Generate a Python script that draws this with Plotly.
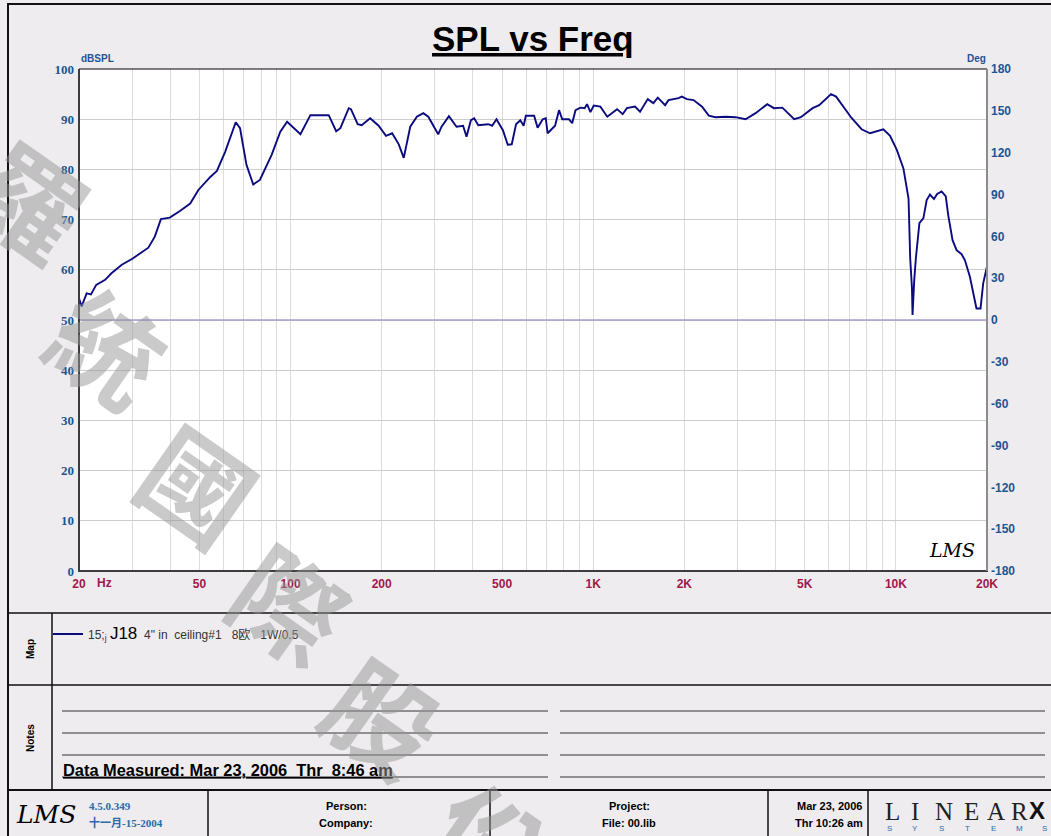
import math
import plotly.graph_objects as go

# ---------------- data ----------------
freq_hz = [
    20, 20.4, 21.2, 21.9, 22.8, 24.4, 25.6, 27.7, 30, 31.8,
    33.9, 35.6, 37.3, 39.9, 43.1, 46.6, 49.6, 54.3, 57.1, 60.8,
    65.9, 68.1, 71.5, 75.3, 79.2, 86.6, 92.5, 97.4, 107.8, 116.3,
    133.7, 141.5, 146.1, 155.7, 158.3, 166.7, 171.8, 183.2, 195.4, 206.7,
    216.6, 227.8, 236.6, 248.6, 261.4, 274.6, 285.1, 307.5, 315.4, 333.6,
    353.5, 371.6, 381.4, 394.3, 404.5, 417, 449.8, 463.5, 479, 503,
    522, 538, 556, 574, 589, 599, 638, 655, 681, 697,
    707, 748, 771, 790, 831, 852, 874, 907, 937, 954,
    979, 1004, 1056, 1113, 1199, 1251, 1292, 1374, 1428, 1514,
    1580, 1634, 1728, 1773, 1914, 1962, 2040, 2146, 2289, 2409,
    2535, 2737, 2954, 3186, 3439, 3757, 3954, 4215, 4613, 4853,
    5306, 5580, 6106, 6345, 6764, 7126, 7703, 8215, 9093, 9567,
    10070, 10590, 11010, 11150, 11300, 11350, 11500, 11640, 11960, 12330,
    12640, 12960, 13360, 13690, 14160, 14620, 14890, 15390, 15870, 16490,
    16910, 17560, 18460, 19040, 19430, 19990,
]
spl_db = [
    54.3, 52.7, 55.3, 55.1, 57.0, 58.0, 59.3, 61.0, 62.2, 63.3,
    64.4, 66.6, 70.1, 70.4, 71.7, 73.2, 75.9, 78.5, 79.7, 83.5,
    89.4, 88.2, 80.9, 77.0, 77.9, 82.9, 87.5, 89.5, 87.0, 90.8,
    90.8, 87.6, 88.2, 92.2, 92.0, 89.0, 88.8, 90.2, 88.7, 86.7,
    87.2, 85.0, 82.3, 88.5, 90.5, 91.2, 90.5, 87.0, 88.5, 90.6,
    88.5, 88.7, 86.5, 89.8, 90.2, 88.8, 89.0, 88.7, 90.0, 87.8,
    84.9, 85.0, 89.0, 89.8, 88.7, 90.7, 90.7, 88.3, 90.0, 90.2,
    87.2, 88.7, 91.8, 90.0, 90.0, 89.2, 91.8, 92.3, 92.2, 93.0,
    91.4, 92.7, 92.5, 90.5, 92.0, 91.0, 92.2, 92.5, 91.5, 94.0,
    93.2, 94.3, 92.8, 93.8, 94.2, 94.5, 94.0, 93.8, 92.5, 90.7,
    90.4, 90.5, 90.4, 90.0, 91.2, 93.0, 92.2, 92.3, 90.0, 90.4,
    92.2, 92.8, 95.0, 94.5, 92.3, 90.3, 88.0, 87.2, 88.0, 86.7,
    83.9, 80.2, 74.2, 62.3, 56.4, 51.0, 58.0, 62.3, 69.3, 70.3,
    73.9, 75.0, 74.1, 75.1, 75.6, 74.6, 70.9, 65.9, 63.9, 63.1,
    61.9, 58.6, 52.3, 52.3, 57.3, 60.6,
]
phase_freq = [20, 20000]
phase_deg = [0, 0]

x_tickvals = [20, 50, 100, 200, 500, 1000, 2000, 5000, 10000, 20000]
x_ticktext = ["20", "50", "100", "200", "500", "1K", "2K", "5K", "10K", "20K"]
x_minor_grid = [30, 40, 60, 70, 80, 90, 300, 400, 600, 700, 800, 900,
                3000, 4000, 6000, 7000, 8000, 9000]
spl_ticks = list(range(0, 101, 10))
deg_ticks = list(range(-180, 181, 30))
deg_ticktext = [str(v) for v in deg_ticks]

legend_name = ("15;<sub>j</sub> <span style='font-size:17px;color:#000'>J18</span>"
               "  4\" in  ceiling#1   8欧   1W/0.5")

# ---------------- geometry helpers ----------------
W, H = 1051, 836
L, R, T, B = 79, 987, 69, 571


def px(x):
    return (x - L) / (R - L)


def py(y):
    return (B - y) / (B - T)


fig = go.Figure()
fig.add_trace(go.Scatter(x=phase_freq, y=phase_deg, yaxis="y2", mode="lines",
                         line=dict(color="#a09fd0", width=1.5), showlegend=False,
                         hoverinfo="skip"))
fig.add_trace(go.Scatter(x=freq_hz, y=spl_db, mode="lines",
                         line=dict(color="#0b0b80", width=1.9), name=legend_name))

shapes = []


def hline(y, x0, x1, color="#111", width=1):
    shapes.append(dict(type="line", xref="paper", yref="paper", x0=px(x0), x1=px(x1),
                       y0=py(y), y1=py(y), line=dict(color=color, width=width)))


def vline(x, y0, y1, color="#111", width=1):
    shapes.append(dict(type="line", xref="paper", yref="paper", x0=px(x), x1=px(x),
                       y0=py(y0), y1=py(y1), line=dict(color=color, width=width)))


# plot frame
hline(T, L, R, "#000", 1)
vline(L, T, B, "#3c3c3c", 2)
hline(B, L - 1, R + 1, "#3c3c3c", 2)
vline(R, T, B, "#8c8c8c", 2)

# outer frame and sections
hline(4, 8, 1060, "#111", 2)
vline(8, 3, 845, "#111", 2)
hline(613, 8, 1060, "#111", 1.5)
hline(685, 8, 1060, "#111", 1.5)
hline(790, 8, 1060, "#111", 2)
vline(52, 613, 790, "#111", 1.5)
for xd in (208, 490, 768, 868):
    vline(xd, 790, 845, "#111", 1.5)
for yl in (711, 733, 755, 777):
    hline(yl, 62, 548, "#333", 1)
    hline(yl, 560, 1045, "#333", 1)


def txt(x, y, s, size=11, color="#000", family="Liberation Sans", xanchor="center",
        yanchor="middle", angle=0, weight="normal", style="normal"):
    fig.add_annotation(xref="paper", yref="paper", x=px(x), y=py(y), text=s,
                       showarrow=False, xanchor=xanchor, yanchor=yanchor, textangle=angle,
                       borderpad=0,
                       font=dict(size=size, color=color, family=family, weight=weight,
                                 style=style))


BLUE = "#1d5592"
txt(533, 38, "<u>SPL vs Freq</u>", size=35, weight="bold")
txt(80, 58, "dBSPL", size=10, color=BLUE, weight="bold", xanchor="left")
txt(987, 58, "Deg", size=10, color=BLUE, weight="bold", xanchor="right")
txt(96, 583, "Hz", size=12, color="#a2174c", weight="bold", xanchor="left")
txt(952, 550, "LMS", size=19, family="DejaVu Serif", style="italic")

txt(30, 649, "Map", size=10, weight="bold", angle=-90)
txt(30, 738, "Notes", size=10, weight="bold", angle=-90)
txt(62, 770, "<u>Data Measured: Mar 23, 2006  Thr  8:46 am</u>", size=16.4,
    weight="bold", xanchor="left")

# footer
txt(46, 814, "LMS", size=25, family="DejaVu Serif", style="italic")
txt(88, 806, "4.5.0.349", size=11, color="#2c6aa8", family="Liberation Serif",
    weight="bold", xanchor="left")
txt(88, 822, "十一月-15-2004", size=11, color="#2c6aa8",
    family="Liberation Serif, Noto Sans CJK SC", weight="bold", xanchor="left")
txt(346, 806, "Person:", size=11, weight="bold")
txt(346, 823, "Company:", size=11, weight="bold")
txt(629, 806, "Project:", size=11, weight="bold")
txt(629, 823, "File: 00.lib", size=11, weight="bold")
txt(829, 806, "Mar 23, 2006", size=11, weight="bold")
txt(829, 823, "Thr 10:26 am", size=11, weight="bold")
for ch, cx in [("L", 892), ("I", 915), ("N", 944), ("E", 971), ("A", 996), ("R", 1019)]:
    txt(cx, 811, ch, size=25, family="Liberation Serif", color="#222")
txt(1037, 810, "X", size=24, family="Liberation Sans", weight="bold", color="#111")
for ch, cx in [("S", 889), ("Y", 915), ("S", 941), ("T", 967), ("E", 993), ("M", 1019),
               ("S", 1044)]:
    txt(cx, 828, ch, size=8, color="#2c6aa8")

# watermark
for ch, cx, cy in [("羅", 32, 198), ("統", 110, 345), ("國", 200, 482),
                   ("際", 292, 602), ("股", 385, 715), ("份", 492, 838)]:
    txt(cx, cy, ch, size=108, color="rgba(150,150,150,0.5)",
        family="Noto Sans CJK TC", weight="bold", angle=35)

fig.update_layout(
    width=W, height=H, autosize=False,
    margin=dict(l=L, r=W - R, t=T, b=H - B, pad=0),
    paper_bgcolor="#eeecef", plot_bgcolor="#ffffff",
    shapes=shapes,
    showlegend=True,
    legend=dict(x=px(48), y=py(634), xanchor="left", yanchor="middle",
                bgcolor="rgba(0,0,0,0)", borderwidth=0,
                font=dict(family="Liberation Sans, Noto Sans CJK SC", size=12, color="#333")),
    xaxis=dict(type="log", range=[math.log10(20), math.log10(20000)],
               tickmode="array", tickvals=x_tickvals, ticktext=x_ticktext,
               showgrid=True, gridcolor="#dcdcdc", gridwidth=1, zeroline=False,
               minor=dict(tickvals=x_minor_grid, showgrid=True, gridcolor="#dcdcdc",
                          gridwidth=1, ticks=""),
               showline=False, ticks="", ticklabelstandoff=4,
               tickfont=dict(family="Liberation Sans", size=12, color="#a2174c",
                             weight="bold")),
    yaxis=dict(range=[0, 100], tickmode="array", tickvals=spl_ticks,
               showgrid=True, gridcolor="#cdcdcd", gridwidth=1, zeroline=False,
               showline=False, ticks="", ticklabelstandoff=4,
               tickfont=dict(family="Liberation Serif", size=13, color=BLUE,
                             weight="bold")),
    yaxis2=dict(range=[-180, 180], overlaying="y", side="right", tickmode="array",
                tickvals=deg_ticks, ticktext=deg_ticktext, showgrid=False,
                zeroline=False, showline=False, ticks="", ticklabelstandoff=3,
                tickfont=dict(family="Liberation Sans", size=12, color=BLUE,
                              weight="bold")),
)

fig.write_html("out.html", config={"displayModeBar": False},
               post_script="document.body.style.margin='0';")
